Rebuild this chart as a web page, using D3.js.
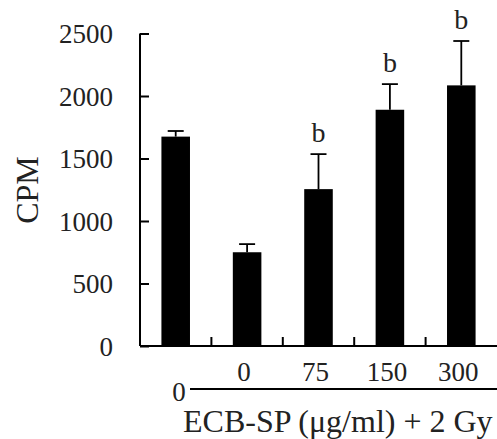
<!DOCTYPE html>
<html>
<head>
<meta charset="utf-8">
<script src="https://cdn.jsdelivr.net/npm/d3@7"></script>
<style>
  body { margin: 0; background: #fff; }
  text { font-family: 'Liberation Serif', 'Times New Roman', serif; fill: #222; }
</style>
</head>
<body>
<div id="chart"></div>
<script>
// data
const groups = ['ctrl', '0', '75', '150', '300'];
const groupLabels = ['', '0', '75', '150', '300'];
const cpm = [1675, 750, 1255, 1890, 2085];
const sem = [45, 65, 280, 205, 355];
const marks = ['', '', 'b', 'b', 'b'];
const yTicks = [0, 500, 1000, 1500, 2000, 2500];

var width = 497, height = 439;
var svg = d3.select('#chart').append('svg')
  .attr('width', width)
  .attr('height', height);

// plot area
var plotLeft = 140, plotRight = 497, plotTop = 33.5, plotBottom = 346;

const x = d3.scaleBand().domain(groups).range([plotLeft, plotRight]).padding(0);
const y = d3.scaleLinear().domain([0, 2500]).range([plotBottom, plotTop]);
const barW = x.bandwidth() * 0.4;

// Y axis, ticks pointing inside
const yAxis = svg.append('g')
  .attr('transform', 'translate(' + plotLeft + ',0)')
  .call(d3.axisLeft(y).tickValues(yTicks).tickFormat(d3.format('d')).tickSize(-9).tickPadding(27));
yAxis.select('.domain').attr('d', 'M0,' + y(2500) + 'V' + y(0)).attr('stroke-width', 2);
yAxis.selectAll('.tick line').attr('stroke-width', 2);
yAxis.selectAll('.tick text')
  .style('font-size', '27px')
  .style('font-family', "'Liberation Serif', serif")
  .attr('fill', '#222')
  .attr('dy', '0.35em');

// X axis line with tick marks between groups
svg.append('line')
  .attr('x1', plotLeft).attr('x2', plotRight)
  .attr('y1', y(0)).attr('y2', y(0))
  .attr('stroke', '#000').attr('stroke-width', 2);

svg.selectAll('.xtick')
  .data(groups.slice(1))
  .join('line')
  .attr('class', 'xtick')
  .attr('x1', d => x(d)).attr('x2', d => x(d))
  .attr('y1', y(0)).attr('y2', y(0) - 9)
  .attr('stroke', '#000').attr('stroke-width', 2);

// bars
svg.selectAll('.bar')
  .data(groups)
  .join('rect')
  .attr('class', 'bar')
  .attr('x', d => x(d) + x.bandwidth() / 2 - barW / 2)
  .attr('y', (d, i) => y(cpm[i]))
  .attr('width', barW)
  .attr('height', (d, i) => y(0) - y(cpm[i]))
  .attr('fill', '#000');

// upper error bars
svg.selectAll('.err')
  .data(groups)
  .join('line')
  .attr('class', 'err')
  .attr('x1', d => x(d) + x.bandwidth() / 2)
  .attr('x2', d => x(d) + x.bandwidth() / 2)
  .attr('y1', (d, i) => y(cpm[i]))
  .attr('y2', (d, i) => y(cpm[i] + sem[i]))
  .attr('stroke', '#000').attr('stroke-width', 1.8);

svg.selectAll('.cap')
  .data(groups)
  .join('line')
  .attr('class', 'cap')
  .attr('x1', d => x(d) + x.bandwidth() / 2 - 8)
  .attr('x2', d => x(d) + x.bandwidth() / 2 + 8)
  .attr('y1', (d, i) => y(cpm[i] + sem[i]))
  .attr('y2', (d, i) => y(cpm[i] + sem[i]))
  .attr('stroke', '#000').attr('stroke-width', 1.8);

// significance letters
svg.selectAll('.mark')
  .data(groups)
  .join('text')
  .attr('class', 'mark')
  .attr('x', d => x(d) + x.bandwidth() / 2)
  .attr('y', (d, i) => y(cpm[i] + sem[i]) - 12)
  .attr('text-anchor', 'middle')
  .style('font-size', '28px')
  .text((d, i) => marks[i]);

// dose labels
svg.selectAll('.xlab')
  .data(groups)
  .join('text')
  .attr('class', 'xlab')
  .attr('x', d => x(d) + x.bandwidth() / 2 - 3)
  .attr('y', 381)
  .attr('text-anchor', 'middle')
  .style('font-size', '27px')
  .text((d, i) => groupLabels[i]);

// bracket line under dose labels
svg.append('line')
  .attr('x1', 190).attr('x2', plotRight)
  .attr('y1', 389).attr('y2', 389)
  .attr('stroke', '#000').attr('stroke-width', 2);

svg.append('text')
  .attr('x', 179).attr('y', 401)
  .attr('text-anchor', 'middle')
  .style('font-size', '27px')
  .text('0');

// axis titles
svg.append('text')
  .attr('x', 183).attr('y', 432)
  .style('font-size', '32px')
  .text('ECB-SP (\u03bcg/ml) + 2 Gy');

svg.append('text')
  .attr('text-anchor', 'middle')
  .attr('transform', 'translate(38,190)rotate(-90)')
  .style('font-size', '32px')
  .text('CPM');
</script>
</body>
</html>
